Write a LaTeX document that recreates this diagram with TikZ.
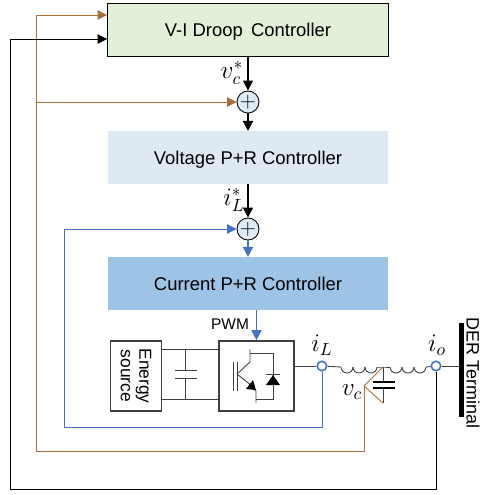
\documentclass[tikz,border=0pt]{standalone}
\usepackage{fontspec}
\setmainfont{Liberation Sans}
\usetikzlibrary{arrows.meta}
\definecolor{fbbrown}{HTML}{A9703C}
\definecolor{fbblue}{HTML}{4472C4}
\definecolor{gridgrey}{HTML}{404040}
\definecolor{droopfill}{HTML}{E2F0D9}
\definecolor{voltfill}{HTML}{DEE9F4}
\definecolor{currfill}{HTML}{9DC3E6}
\definecolor{sumfill}{HTML}{DEEBF7}
\tikzset{
	ctrlbox/.style={minimum width=5.62cm,minimum height=1.05cm,inner sep=0pt,text height=7.6pt,text depth=0pt,font=\fontsize{10.5}{12}\selectfont},
	sumnode/.style={circle,draw=black,line width=0.5pt,fill=sumfill,minimum size=0.44cm,inner sep=0pt,font=\fontsize{12}{12}\selectfont},
	hwbox/.style={draw=gridgrey,line width=0.9pt,inner sep=0pt},
	sensor/.style={circle,draw=fbblue,line width=0.9pt,fill=white,minimum size=0.19cm,inner sep=0pt},
	sig/.style={-{Triangle[length=0.2cm,width=0.2cm]},line width=0.9pt},
	fb/.style={-{Triangle[length=0.19cm,width=0.19cm]},line width=0.5pt},
	wire/.style={line width=0.5pt,draw=gridgrey},
	lab/.style={inner sep=0pt,font=\fontsize{14}{14}\selectfont},
}
\begin{document}
\begin{tikzpicture}[x=0.02cm,y=-0.02cm]
	\useasboundingbox (0,0) rectangle (480,495);
	% Controllers
	\node[ctrlbox,draw=black,line width=0.5pt,fill=droopfill] (droop) at (248,30) {V-I Droop\, Controller};
	\node[ctrlbox,fill=voltfill] (volt) at (248,157.5) {Voltage P+R Controller};
	\node[ctrlbox,fill=currfill] (curr) at (248,283.5) {Current P+R Controller};
	\node[sumnode] (sum1) at (248,102) {$+$};
	\node[sumnode] (sum2) at (248,229) {$+$};
	% Forward path
	\draw[sig] (droop.south -| sum1) -- (sum1);
	\draw[sig] (sum1) -- (volt.north -| sum1);
	\draw[sig] (volt.south -| sum2) -- (sum2);
	\draw[sig,fbblue] (sum2) -- (curr.north -| sum2);
	\node[lab] (vref) at (232,73) {$v_c^*$};
	\node[lab] (iref) at (234,200) {$i_L^*$};
	% Power stage
	\node[hwbox,minimum width=1.02cm,minimum height=1.4cm] (source) at (136,376) {};
	\node[rotate=-90,align=center,font=\fontsize{9.9}{10.5}\selectfont] (sourcetext) at (source) {Energy\\source};
	\node[hwbox,minimum width=1.5cm,minimum height=1.4cm] (bridge) at (256.5,376) {};
	\node[font=\fontsize{8.8}{9}\selectfont,inner sep=0pt] (pwm) at (230,324) {PWM};
	\draw[sig,fbblue] (curr.south -| bridge) -- (bridge);
	% DC link
	\draw[wire] (161,349) -- (219,349);
	\draw[wire] (161,399) -- (219,399);
	\draw[wire] (185,349) -- (185,370) (185,378) -- (185,399);
	\draw[wire] (175,370) -- (197,370) (175,378) -- (197,378);
	% Switch
	\draw[wire] (233,362) -- (233,391) (237,362) -- (237,391);
	\draw[wire] (250,349) -- (250,362) -- (237,374) -- (252,386);
	\draw[wire] (256,403) -- (256,391) -- (250,386);
	\fill[black] (256,390) -- (246,389) -- (253,380) -- cycle;
	\draw[wire] (250,353) -- (273,353) -- (273,399) -- (256,399);
	\fill[black] (273,375) -- (266,385) -- (280,385) -- cycle;
	\draw[wire] (266,374) -- (280,374);
	% Output filter
	\node[sensor] (il) at (322,366) {};
	\node[sensor] (io) at (436,366) {};
	\coordinate (mid) at (383,367);
	\coordinate (midlow) at (383,403);
	\coordinate (vtip) at (364,386);
	\draw[wire] (bridge.east |- il) -- (il);
	\draw[wire] (il) -- (341,367);
	\foreach \xs in {341,353,365}
	{\draw[wire] (\xs,367) arc (180:0:6);}
	\draw[wire] (377,367) -- (mid) -- (390,367);
	\foreach \xs in {390,402,414}
	{\draw[wire] (\xs,367) arc (180:0:6);}
	\draw[wire] (426,367) -- (io);
	\draw[wire] (mid) -- (383,382) (383,388) -- (midlow);
	\draw[line width=0.7pt] (373,382) -- (395,382) (373,388) -- (395,388);
	\node[lab] (illab) at (322,345) {$i_L$};
	\node[lab] (iolab) at (437,345) {$i_o$};
	\node[lab] (vclab) at (352,392) {$v_c$};
	% Terminal
	\node[fill=black,minimum width=0.1cm,minimum height=1.88cm,inner sep=0pt] (bus) at (461.5,370) {};
	\node[rotate=-90,font=\fontsize{10.2}{11}\selectfont,inner sep=0pt] (der) at (473,373) {DER Terminal};
	\draw[wire] (io) -- (bus.west |- io);
	% Feedback
	\draw[line width=0.5pt,fbbrown] (mid) -- (vtip) -- (midlow);
	\coordinate (brownlow) at (36,451);
	\coordinate (browntop) at (36,15);
	\coordinate (brownmid) at (36,102);
	\draw[fb,fbbrown] (vtip) |- (brownlow) -- (browntop) -- (droop.west |- browntop);
	\draw[fb,fbbrown] (brownmid) -- (sum1);
	\coordinate (bluelow) at (64,427);
	\coordinate (bluetop) at (64,229);
	\draw[fb,fbblue] (il) |- (bluelow) -- (bluetop) -- (sum2);
	\coordinate (blacklow) at (10,489);
	\coordinate (blacktop) at (10,39);
	\draw[fb,black] (io) |- (blacklow) -- (blacktop) -- (droop.west |- blacktop);
\end{tikzpicture}
\end{document}
